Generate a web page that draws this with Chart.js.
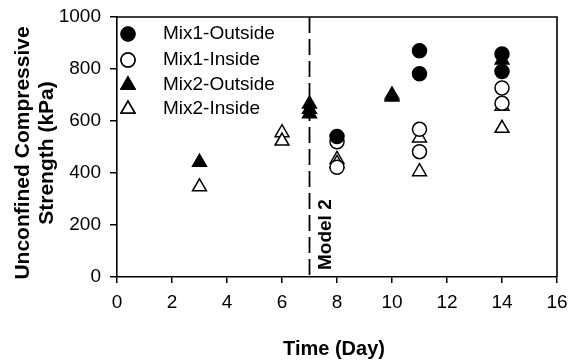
<!DOCTYPE html>
<html>
<head>
<meta charset="utf-8">
<script src="https://cdn.jsdelivr.net/npm/chart.js@4.4.1/dist/chart.umd.min.js"></script>
<style>
  html, body { margin: 0; padding: 0; background: #fff; }
  #wrap { width: 569px; height: 363px; }
</style>
</head>
<body>
<div id="wrap"><canvas id="ucsChart" width="569" height="363"></canvas></div>
<script>
// strength readings (kPa) by curing day
const mix1OutsideDays = [8, 11, 11, 14, 14];
const mix1OutsideVals = [540, 870, 782, 858, 790];

const mix1InsideDays = [8, 8, 11, 11, 14, 14];
const mix1InsideVals = [520, 422, 568, 482, 727, 668];

const mix2OutsideDays = [3, 7, 7, 7, 10, 10, 14];
const mix2OutsideVals = [441, 665, 645, 628, 700, 692, 835];

const mix2InsideDays = [3, 6, 6, 8, 8, 11, 11, 14, 14];
const mix2InsideVals = [347, 555, 523, 452, 437, 535, 405, 657, 572];

const seriesNames = ['Mix1-Outside', 'Mix1-Inside', 'Mix2-Outside', 'Mix2-Inside'];
const xTicks = [0, 2, 4, 6, 8, 10, 12, 14, 16];
const yTicks = [0, 200, 400, 600, 800, 1000];
const modelDay = 7;
const modelLabel = 'Model 2';

const FONT = 'Arial, "Liberation Sans", sans-serif';

const toPoints = (xs, ys) => xs.map((x, i) => ({ x: x, y: ys[i] }));

const styles = [
  { pointStyle: 'circle', fill: '#000', radius: 7 },
  { pointStyle: 'circle', fill: '#fff', radius: 7 },
  { pointStyle: 'triangle', fill: '#000', radius: 8 },
  { pointStyle: 'triangle', fill: '#fff', radius: 8 }
];

const seriesData = [
  toPoints(mix1OutsideDays, mix1OutsideVals),
  toPoints(mix1InsideDays, mix1InsideVals),
  toPoints(mix2OutsideDays, mix2OutsideVals),
  toPoints(mix2InsideDays, mix2InsideVals)
];

const datasets = seriesNames.map((name, i) => ({
  label: name,
  data: seriesData[i],
  pointStyle: styles[i].pointStyle,
  pointRadius: styles[i].radius,
  pointHoverRadius: styles[i].radius,
  pointBackgroundColor: styles[i].fill,
  pointBorderColor: '#000',
  pointBorderWidth: 1.5,
  showLine: false
}));

// frame, dashed divider and its label
const decorations = {
  id: 'decorations',
  beforeDatasetsDraw(chart) {
    const { ctx, chartArea: a, scales } = chart;
    const x = scales.x.getPixelForValue(modelDay);
    ctx.save();
    ctx.strokeStyle = '#000';
    ctx.lineWidth = 1.8;
    ctx.setLineDash([16, 6]);
    ctx.beginPath();
    ctx.moveTo(x, a.top);
    ctx.lineTo(x, a.bottom);
    ctx.stroke();
    ctx.setLineDash([]);

    ctx.fillStyle = '#000';
    ctx.font = 'bold 19px ' + FONT;
    ctx.translate(x + 16, a.bottom - 7);
    ctx.rotate(-Math.PI / 2);
    ctx.textAlign = 'left';
    ctx.textBaseline = 'middle';
    ctx.fillText(modelLabel, 0, 0);
    ctx.restore();
  },
  afterDraw(chart) {
    const { ctx, chartArea: a } = chart;
    ctx.save();
    ctx.strokeStyle = '#000';
    ctx.lineWidth = 1.6;
    ctx.beginPath();
    ctx.moveTo(a.left, a.top);
    ctx.lineTo(a.right, a.top);
    ctx.lineTo(a.right, a.bottom);
    ctx.stroke();

    // axis titles
    ctx.fillStyle = '#000';
    ctx.font = 'bold 20px ' + FONT;
    ctx.textAlign = 'center';
    ctx.textBaseline = 'middle';
    ctx.fillText('Time (Day)', (a.left + a.right) / 2 - 3, 349);

    ctx.font = 'bold 21px ' + FONT;
    ctx.translate(0, 153);
    ctx.rotate(-Math.PI / 2);
    ctx.fillText('Unconfined Compressive', 0, 23);
    ctx.fillText('Strength (kPa)', 0, 47);
    ctx.restore();

    // legend inside the plot
    ctx.save();
    const rows = [34, 60, 85, 109];
    ctx.font = '19px ' + FONT;
    ctx.textAlign = 'left';
    ctx.textBaseline = 'middle';
    rows.forEach((y, i) => {
      const s = styles[i];
      Chart.helpers.drawPoint(ctx, {
        pointStyle: s.pointStyle,
        radius: s.radius,
        borderWidth: 1.5
      }, 128, y);
      ctx.fillStyle = s.fill;
      ctx.strokeStyle = '#000';
      ctx.lineWidth = 1.5;
      ctx.fill();
      ctx.stroke();
      ctx.fillStyle = '#000';
      ctx.fillText(seriesNames[i], 163, y);
    });
    ctx.restore();
  }
};

new Chart(document.getElementById('ucsChart'), {
  type: 'scatter',
  data: { datasets: datasets },
  options: {
    responsive: false,
    animation: false,
    devicePixelRatio: 1,
    layout: { padding: { top: 17, right: 12, left: 0, bottom: 0 } },
    plugins: {
      legend: { display: false },
      tooltip: { enabled: false }
    },
    scales: {
      x: {
        type: 'linear',
        min: 0,
        max: 16,
        afterBuildTicks: (scale) => { scale.ticks = xTicks.map(v => ({ value: v })); },
        afterFit: (scale) => {
          scale.height = 86;
          scale.paddingLeft = 0;
          scale.paddingRight = 0;
        },
        grid: { drawOnChartArea: false, drawTicks: true, tickLength: 6, color: '#000', lineWidth: 1.5 },
        border: { display: true, color: '#000', width: 1.6 },
        ticks: { color: '#000', font: { family: FONT, size: 19 }, padding: 8, maxRotation: 0 }
      },
      y: {
        type: 'linear',
        min: 0,
        max: 1000,
        afterBuildTicks: (scale) => { scale.ticks = yTicks.map(v => ({ value: v })); },
        afterFit: (scale) => {
          scale.width = 117;
          scale.paddingTop = 0;
          scale.paddingBottom = 0;
        },
        grid: { drawOnChartArea: false, drawTicks: true, tickLength: 7, color: '#000', lineWidth: 1.5 },
        border: { display: true, color: '#000', width: 1.6 },
        ticks: {
          color: '#000',
          font: { family: FONT, size: 19 },
          padding: 9,
          callback: (v) => String(v)
        }
      }
    }
  },
  plugins: [decorations]
});
</script>
</body>
</html>
